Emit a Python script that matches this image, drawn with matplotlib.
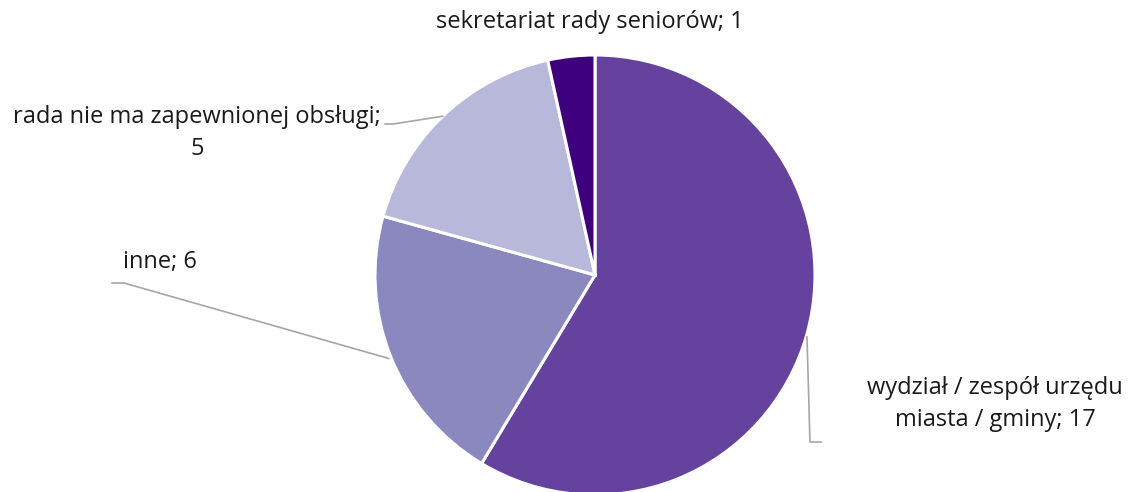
import numpy as np
import matplotlib
matplotlib.use("Agg")
import matplotlib.pyplot as plt

names = ["wydział / zespół urzędu\nmiasta / gminy", "inne", "rada nie ma zapewnionej obsługi;", "sekretariat rady seniorów"]
values = [17, 6, 5, 1]
colors = ["#65429E", "#8A88BE", "#B8B8DA", "#3F007D"]

plt.rcParams['font.family'] = ['Open Sans', 'DejaVu Sans']

W, H = 1131, 492
fig = plt.figure(figsize=(W / 100, H / 100), dpi=100)
ax = fig.add_axes([0, 0, 1, 1])

cx, cy, R = 595, H - 275, 220
wedges, _ = ax.pie(values, colors=colors, startangle=90, counterclock=False,
                   center=(cx, cy), radius=R, frame=True,
                   wedgeprops=dict(edgecolor='white', linewidth=2.2))
ax.set_xlim(0, W)
ax.set_ylim(0, H)
ax.set_aspect('equal')
ax.axis('off')

txt = dict(fontsize=17, color='#1a1a1a')
line = dict(color='#A6A6A6', lw=1.2)

def edge_pt(w):
    a = np.deg2rad((w.theta1 + w.theta2) / 2)
    return cx + R * np.cos(a), cy + R * np.sin(a)

# wydział
ex, ey = edge_pt(wedges[0])
ax.plot([ex, ex + 3, ex + 14], [ey - 3, H - 442, H - 442], **line)
ax.text(995, H - 404, f"{names[0]}; {values[0]}",
        ha='center', va='center', linespacing=1.4, **txt)

# inne
ex, ey = edge_pt(wedges[1])
ax.plot([ex - 2, 124, 112], [ey - 2, H - 283, H - 283], **line)
ax.text(123, H - 262, f"{names[1]}; {values[1]}", ha='left', va='center', **txt)

# rada
ex, ey = edge_pt(wedges[2])
ax.plot([ex - 1, 393, 385], [ey - 1, H - 124, H - 124], **line)
ax.text(197, H - 133, f"{names[2]}\n{values[2]}",
        ha='center', va='center', linespacing=1.4, **txt)

# sekretariat
ax.text(590, H - 22, f"{names[3]}; {values[3]}",
        ha='center', va='center', **txt)

fig.savefig("out.png", dpi=100, facecolor='white')
